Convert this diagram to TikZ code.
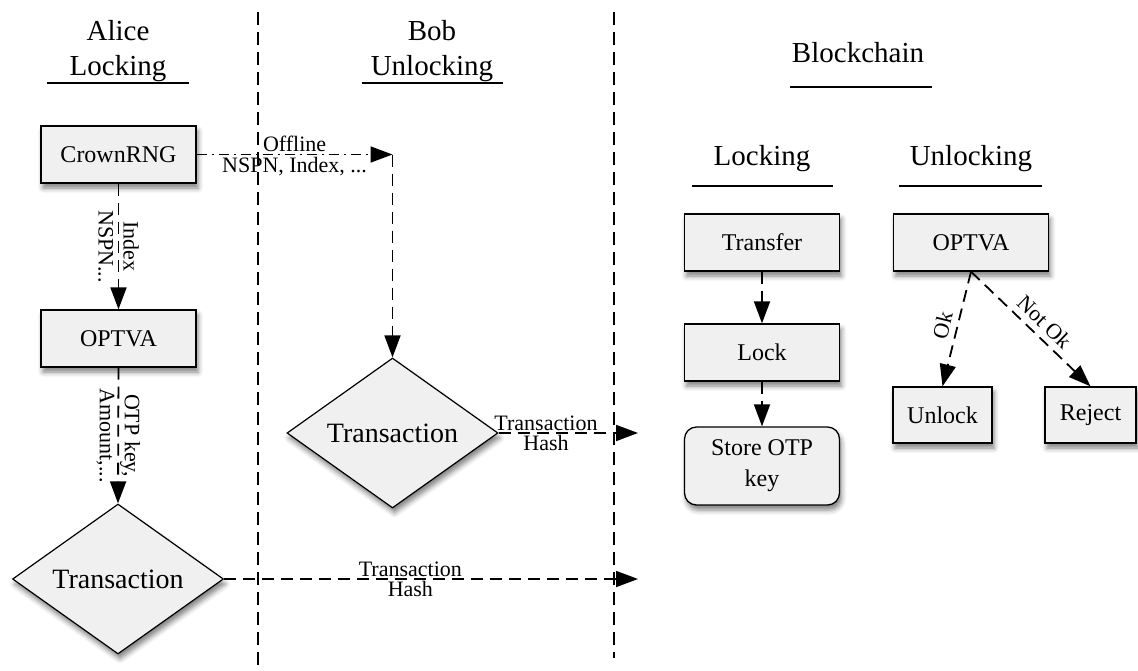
\documentclass[tikz,border=0pt]{standalone}
\usepackage{fontspec}
\setmainfont{Liberation Serif}
\usetikzlibrary{arrows.meta,shapes.geometric,shadows.blur}
\definecolor{boxfill}{HTML}{F0F0F0}
\tikzset{
  shd/.style={blur shadow={shadow xshift=2pt, shadow yshift=-5pt, shadow blur radius=5pt, shadow opacity=50}},
  box/.style={draw, line width=1.3pt, fill=boxfill, minimum width=155pt, minimum height=57pt, inner sep=0pt, font=\fontsize{24}{29}\selectfont, shd},
  dec/.style={diamond, draw, line width=1.2pt, fill=boxfill, minimum width=211pt, minimum height=142pt, inner sep=0pt, font=\fontsize{28}{34}\selectfont, shd},
  lane/.style={line width=1.9pt, dash pattern=on 13pt off 7pt},
  tip/.style={-{Triangle[length=22pt,width=16pt]}},
  conn/.style={line width=1.8pt, dash pattern=on 12pt off 7pt, tip},
  dashdot/.style={line width=1.8pt, dash pattern=on 10pt off 5pt on 2pt off 5pt, tip},
  lbl/.style={font=\fontsize{22}{25}\selectfont, inner sep=1.5pt},
  slbl/.style={font=\fontsize{22}{25}\selectfont, inner sep=6pt},
  head/.style={font=\fontsize{29}{35}\selectfont, align=center, inner sep=0pt},
  uline/.style={line width=1.8pt},
}
\begin{document}
\begin{tikzpicture}[x=1pt,y=-1pt]
\useasboundingbox (0,0) rectangle (1138,670);
% swim lanes
\draw[lane] (258,12) -- (258,670);
\draw[lane] (614,12) -- (614,658);
% headings
\node[head] (hA) at (118,51) {Alice\\Locking};
\node[head] (hB) at (432,51) {Bob\\Unlocking};
\node[head] (hC) at (858,53) {Blockchain};
\node[head] (hL) at (762,159) {Locking};
\node[head] (hU) at (971,159) {Unlocking};
\draw[uline] (47,83) -- (189,83);
\draw[uline] (362,83) -- (503,83);
\draw[uline] (790,87) -- (932,87);
\draw[uline] (692,186) -- (833,186);
\draw[uline] (899,186) -- (1042,186);
% nodes
\node[box] (crown) at (118.5,154.5) {CrownRNG};
\node[box] (optA) at (118.5,338.5) {OPTVA};
\node[dec] (txA) at (118,579) {Transaction};
\node[dec] (txB) at (392.5,433) {Transaction};
\coordinate (off) at (392.5,154.5);
\node[box] (transfer) at (762,242.5) {Transfer};
\node[box] (lock) at (762,352.5) {Lock};
\node[box, rounded corners=12pt, minimum height=78pt, align=center, font=\fontsize{24}{31}\selectfont] (store) at (762,466) {Store OTP\\key};
\node[box] (optB) at (971,242.5) {OPTVA};
\node[box, minimum width=99pt, minimum height=56pt] (unlock) at (942.5,415) {Unlock};
\node[box, minimum width=91pt, minimum height=56pt] (reject) at (1090.5,415) {Reject};
\coordinate (hashA) at (638,579);
\coordinate (hashB) at (638,433);
% connectors
\draw[dashdot] (crown.east) -- (off)
  node[lbl, midway, above] {Offline}
  node[lbl, midway, below] {NSPN, Index, ...};
\draw[conn] (off) -- (txB.north);
\draw[conn] (crown.south) -- (optA.north)
  node[lbl, midway, rotate=-90, align=center] {Index\\NSPN...};
\draw[conn] (optA.south) -- (txA.north)
  node[lbl, midway, rotate=-90, align=center] {OTP key,\\Amount,...};
\draw[conn] (txA.east) -- (hashA)
  node[lbl, pos=0.45, above] {Transaction}
  node[lbl, pos=0.45, below] {Hash};
\draw[conn] (txB.east) -- (hashB)
  node[lbl, pos=0.34, above] {Transaction}
  node[lbl, pos=0.34, below] {Hash};
\draw[conn] (transfer) -- (lock);
\draw[conn] (lock) -- (store);
\draw[conn] (optB.south) -- (unlock.north)
  node[slbl, pos=0.5, sloped, above] {Ok};
\draw[conn] (optB.south) -- (reject.north)
  node[slbl, pos=0.53, sloped, above] {Not Ok};
\end{tikzpicture}
\end{document}
